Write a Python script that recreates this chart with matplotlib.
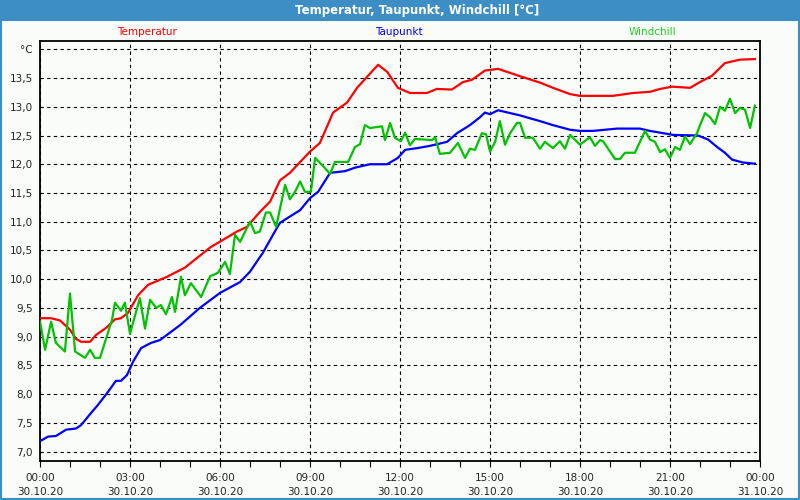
import numpy as np
import matplotlib
matplotlib.use("Agg")
import matplotlib.pyplot as plt
from matplotlib.patches import Rectangle

# Data (hours since 30.10.20 00:00, values in degC)
temp_h = [0.0, 0.37, 0.67, 1.0, 1.2, 1.37, 1.67, 1.87, 2.2, 2.5, 2.7, 2.93, 3.27, 3.6,
          4.0, 4.23, 4.83, 5.67, 6.57, 6.9, 7.33, 7.67, 8.0, 8.33, 9.0, 9.33, 9.77,
          10.23, 10.57, 10.9, 11.27, 11.57, 11.93, 12.33, 12.9, 13.23, 13.73, 14.1,
          14.4, 14.83, 15.27, 15.67, 16.07, 16.67, 17.1, 17.67, 18.0, 19.1, 19.77,
          20.33, 20.67, 21.07, 21.67, 22.0, 22.4, 22.83, 23.33, 23.83]
temp_v = [9.32, 9.32, 9.28, 9.12, 8.96, 8.91, 8.91, 9.03, 9.15, 9.3, 9.32, 9.41, 9.72, 9.9,
          9.99, 10.04, 10.2, 10.55, 10.83, 10.91, 11.17, 11.35, 11.72, 11.85, 12.22, 12.37, 12.9,
          13.07, 13.33, 13.52, 13.73, 13.61, 13.33, 13.24, 13.24, 13.31, 13.3, 13.43,
          13.47, 13.63, 13.66, 13.59, 13.52, 13.42, 13.33, 13.22, 13.19, 13.19, 13.24,
          13.26, 13.31, 13.35, 13.33, 13.43, 13.54, 13.76, 13.82, 13.83]

dew_h = [0.0, 0.27, 0.53, 0.87, 1.2, 1.37, 1.7, 1.93, 2.27, 2.53, 2.7, 2.9, 3.1, 3.37,
         3.7, 4.0, 4.67, 5.33, 6.0, 6.67, 7.0, 7.43, 7.83, 8.0, 8.33, 8.67, 9.0, 9.27,
         9.67, 10.17, 10.5, 11.0, 11.57, 11.93, 12.17, 12.57, 13.0, 13.57, 13.9, 14.33,
         14.67, 14.83, 15.0, 15.27, 15.67, 16.0, 16.33, 16.67, 17.1, 17.67, 18.0, 18.43,
         19.23, 20.0, 20.33, 20.67, 21.1, 21.93, 22.27, 22.57, 22.83, 23.07, 23.43, 23.83]
dew_v = [7.18, 7.26, 7.27, 7.38, 7.4, 7.46, 7.67, 7.81, 8.04, 8.23, 8.23, 8.33, 8.56, 8.8,
         8.89, 8.94, 9.2, 9.5, 9.76, 9.95, 10.13, 10.46, 10.83, 10.98, 11.09, 11.2, 11.41, 11.52,
         11.85, 11.88, 11.94, 12.0, 12.0, 12.11, 12.25, 12.28, 12.32, 12.39, 12.54, 12.68,
         12.82, 12.9, 12.87, 12.94, 12.89, 12.85, 12.8, 12.75, 12.68, 12.6, 12.58, 12.58,
         12.62, 12.62, 12.58, 12.55, 12.51, 12.5, 12.43, 12.3, 12.2, 12.08, 12.03, 12.01]

wc_h = [0.0, 0.17, 0.37, 0.53, 0.83, 1.0, 1.17, 1.5, 1.67, 1.83, 2.0, 2.4, 2.5, 2.7, 2.83,
        3.0, 3.33, 3.5, 3.67, 3.87, 4.03, 4.2, 4.4, 4.5, 4.7, 4.83, 5.03, 5.37, 5.67, 5.93,
        6.17, 6.33, 6.5, 6.67, 7.0, 7.17, 7.33, 7.53, 7.67, 7.87, 8.17, 8.33, 8.5, 8.67,
        8.83, 9.03, 9.17, 9.4, 9.67, 9.83, 10.27, 10.5, 10.67, 10.83, 11.0, 11.4, 11.5,
        11.67, 11.83, 12.03, 12.17, 12.33, 12.5, 13.07, 13.17, 13.33, 13.67, 13.93, 14.17,
        14.33, 14.5, 14.73, 14.87, 15.0, 15.17, 15.33, 15.5, 15.67, 15.9, 16.0, 16.17,
        16.43, 16.67, 16.83, 17.1, 17.33, 17.5, 17.67, 18.0, 18.33, 18.5, 18.67, 18.77,
        19.17, 19.33, 19.5, 19.83, 20.17, 20.33, 20.5, 20.67, 20.83, 21.0, 21.17, 21.33,
        21.5, 21.67, 21.9, 22.0, 22.17, 22.33, 22.5, 22.67, 22.83, 23.0, 23.17, 23.33,
        23.5, 23.67, 23.83]
wc_v = [9.26, 8.77, 9.26, 8.89, 8.74, 9.75, 8.74, 8.63, 8.77, 8.63, 8.63, 9.29, 9.59, 9.45, 9.59,
        9.05, 9.67, 9.14, 9.64, 9.5, 9.55, 9.39, 9.69, 9.43, 10.04, 9.72, 9.93, 9.69, 10.05, 10.11,
        10.3, 10.09, 10.77, 10.65, 11.0, 10.8, 10.83, 11.16, 11.16, 10.91, 11.64, 11.39, 11.52, 11.7,
        11.52, 11.52, 12.11, 11.99, 11.83, 12.04, 12.04, 12.3, 12.35, 12.68, 12.63, 12.66, 12.42,
        12.72, 12.46, 12.4, 12.55, 12.33, 12.44, 12.42, 12.47, 12.18, 12.2, 12.37, 12.11,
        12.27, 12.25, 12.54, 12.52, 12.22, 12.39, 12.75, 12.34, 12.54, 12.72, 12.72, 12.46,
        12.46, 12.27, 12.39, 12.28, 12.4, 12.27, 12.51, 12.34, 12.47, 12.32, 12.42, 12.4,
        12.09, 12.09, 12.2, 12.2, 12.58, 12.43, 12.39, 12.21, 12.26, 12.11, 12.3, 12.25,
        12.48, 12.35, 12.54, 12.68, 12.89, 12.82, 12.7, 13.0, 12.93, 13.14, 12.89, 12.98,
        12.95, 12.63, 13.02]

x_ticks = [0, 3, 6, 9, 12, 15, 18, 21, 24]
x_labels = ["00:00\n30.10.20", "03:00\n30.10.20", "06:00\n30.10.20", "09:00\n30.10.20",
            "12:00\n30.10.20", "15:00\n30.10.20", "18:00\n30.10.20", "21:00\n30.10.20",
            "00:00\n31.10.20"]
y_ticks = [7.0, 7.5, 8.0, 8.5, 9.0, 9.5, 10.0, 10.5, 11.0, 11.5, 12.0, 12.5, 13.0, 13.5, 14.0]
y_labels = ["7,0", "7,5", "8,0", "8,5", "9,0", "9,5", "10,0", "10,5", "11,0", "11,5",
            "12,0", "12,5", "13,0", "13,5", "°C"]

bg = "#fafcfa"
bar = "#3c8ec4"

fig = plt.figure(figsize=(8, 5), dpi=100, facecolor=bg)
ax = fig.add_axes([0.05, 0.0786, 0.90, 0.84])
ax.set_facecolor(bg)

ax.plot(temp_h, temp_v, color="#ff0000", lw=1.6, zorder=3)
ax.plot(dew_h, dew_v, color="#0000ff", lw=1.6, zorder=3)
ax.plot(wc_h, wc_v, color="#00c000", lw=1.6, zorder=3)

ax.set_xlim(0, 24)
ax.set_ylim(6.84, 14.15)
ax.set_xticks(x_ticks)
ax.set_xticklabels(x_labels, fontsize=7.5, color="#222222", linespacing=1.45)
ax.set_xticks(np.arange(0, 25, 1), minor=True)
ax.set_yticks(y_ticks)
ax.set_yticklabels(y_labels, fontsize=7.5, color="#222222")
ax.tick_params(axis="x", which="both", direction="out", length=4, width=0.8, pad=5)
ax.tick_params(axis="y", length=0, pad=5)
ax.grid(True, which="major", color="black", linestyle=(0, (3, 3)), linewidth=0.8)
for s in ax.spines.values():
    s.set_linewidth(1.3)
    s.set_color("black")

# title bar and frame
fig.patches.append(Rectangle((0, 1 - 21 / 500), 1, 21 / 500, transform=fig.transFigure,
                             facecolor=bar, edgecolor="none", zorder=0))
fig.patches.append(Rectangle((0.0015, 0.002), 0.997, 0.996, transform=fig.transFigure,
                             facecolor="none", edgecolor=bar, lw=1.5, zorder=1))
fig.text(0.521, 0.979, "Temperatur, Taupunkt, Windchill [°C]", color="white",
         fontsize=8.5, fontweight="bold", ha="center", va="center")

fig.text(0.184, 0.936, "Temperatur", color="#ff0000", fontsize=7.5, ha="center", va="center")
fig.text(0.499, 0.936, "Taupunkt", color="#0000ff", fontsize=7.5, ha="center", va="center")
fig.text(0.815, 0.936, "Windchill", color="#22cc22", fontsize=7.5, ha="center", va="center")

plt.savefig("out.png", dpi=100, facecolor=bg)
